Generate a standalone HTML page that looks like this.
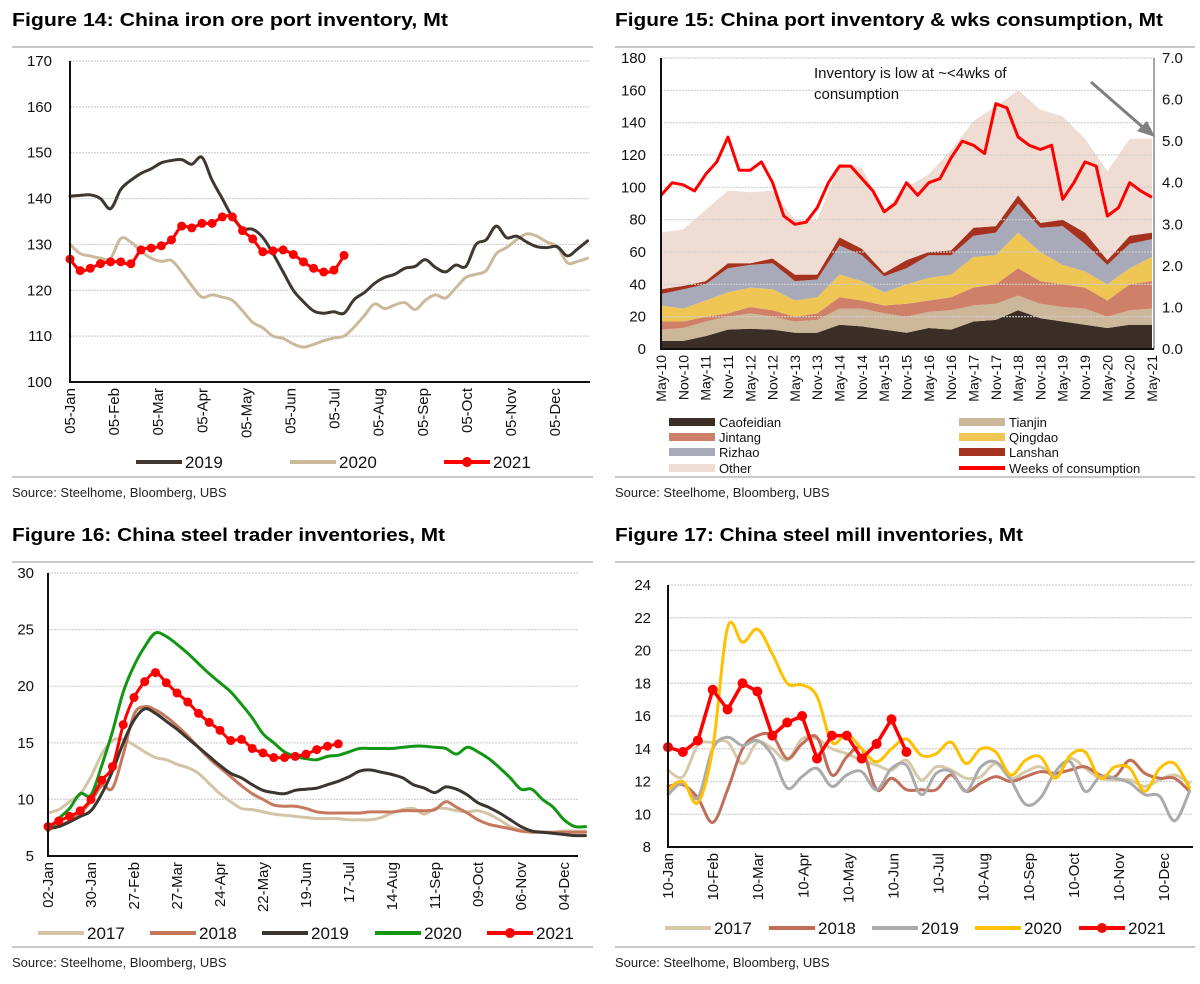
<!DOCTYPE html>
<html><head><meta charset="utf-8"><style>
html,body{margin:0;padding:0;background:#fff;}
svg{display:block;font-family:"Liberation Sans",Arial,sans-serif;}
.t{font-weight:bold;font-size:18px;fill:#000;}
.src{font-size:13px;fill:#222;}
.tk{font-size:14px;fill:#111;}
.lg{font-size:15px;fill:#111;}
</style></head><body>
<svg id="s" width="1200" height="984" viewBox="0 0 1200 984" xmlns="http://www.w3.org/2000/svg">
<text class="t" x="12" y="26" textLength="436" lengthAdjust="spacingAndGlyphs">Figure 14: China iron ore port inventory, Mt</text>
<text class="t" x="615" y="26" textLength="548" lengthAdjust="spacingAndGlyphs">Figure 15: China port inventory &amp; wks consumption, Mt</text>
<text class="t" x="12" y="541" textLength="433" lengthAdjust="spacingAndGlyphs">Figure 16: China steel trader inventories, Mt</text>
<text class="t" x="615" y="541" textLength="408" lengthAdjust="spacingAndGlyphs">Figure 17: China steel mill inventories, Mt</text>
<line x1="12" y1="47" x2="593" y2="47" stroke="#c8c8c8" stroke-width="2"/>
<line x1="615" y1="47" x2="1195" y2="47" stroke="#c8c8c8" stroke-width="2"/>
<line x1="12" y1="477" x2="593" y2="477" stroke="#c8c8c8" stroke-width="2"/>
<line x1="615" y1="477" x2="1195" y2="477" stroke="#c8c8c8" stroke-width="2"/>
<line x1="12" y1="562" x2="593" y2="562" stroke="#c8c8c8" stroke-width="2"/>
<line x1="615" y1="562" x2="1195" y2="562" stroke="#c8c8c8" stroke-width="2"/>
<line x1="12" y1="947" x2="593" y2="947" stroke="#c8c8c8" stroke-width="2"/>
<line x1="615" y1="947" x2="1195" y2="947" stroke="#c8c8c8" stroke-width="2"/>
<text class="src" x="12" y="497">Source:  Steelhome, Bloomberg, UBS</text>
<text class="src" x="615" y="497">Source:  Steelhome, Bloomberg, UBS</text>
<text class="src" x="12" y="967">Source:  Steelhome, Bloomberg, UBS</text>
<text class="src" x="615" y="967">Source:  Steelhome, Bloomberg, UBS</text>
<text x="814" y="78" font-size="15" fill="#111">Inventory is low at ~&lt;4wks of</text>
<text x="814" y="99" font-size="15" fill="#111">consumption</text>
</svg>
<script>
// ---- Figure 14 data ----
const f14Ticks=["05-Jan","05-Feb","05-Mar","05-Apr","05-May","05-Jun","05-Jul","05-Aug","05-Sep","05-Oct","05-Nov","05-Dec"];
const f14Y=[100,110,120,130,140,150,160,170];
const f14_2019=[140.5,140.7,140.8,140,137.8,142,144,145.5,146.5,147.8,148.3,148.5,147.5,149,144,140,136,133.5,133.3,131.5,128,124,120,117.5,115.5,115,115.3,115,118,119.5,121.5,122.8,123.5,124.8,125.2,126.7,125,124,125.5,125.2,130,131,134,131.5,131.8,130.5,129.5,129.3,129.5,127.5,129,130.8];
const f14_2020=[130,128,127.5,127,127,131.3,130.5,128.5,127,126.3,126.5,124,121,118.5,119,118.5,117.8,115.5,113,111.8,110,109.5,108.3,107.6,108.2,109,109.6,110,112,114.5,117,116,116.8,117.3,115.8,117.8,119,118.3,120.5,122.8,123.5,124.3,128,129.3,131,132.3,131.8,130.5,129.5,126,126.3,127];
const f14_2021=[126.8,124.3,124.8,125.8,126.2,126.2,125.8,128.8,129.2,129.7,131,134,133.6,134.6,134.6,136,136,133,131.2,128.4,128.6,128.8,127.8,126.2,124.8,124,124.4,127.6];
// ---- Figure 15 data ----
const f15Ticks=["May-10","Nov-10","May-11","Nov-11","May-12","Nov-12","May-13","Nov-13","May-14","Nov-14","May-15","Nov-15","May-16","Nov-16","May-17","Nov-17","May-18","Nov-18","May-19","Nov-19","May-20","Nov-20","May-21"];
const f15YL=[0,20,40,60,80,100,120,140,160,180];
const f15YR=["0.0","1.0","2.0","3.0","4.0","5.0","6.0","7.0"];
const caofeidian=[5,5,8,12,12.5,12,10,10,15,14,12,10,13,12,17,18,24,19,17,15,13,15,15];
const tianjin=[7,8,9,8,9.5,8,7,8,10,11,10,10,10,12,10,10,9,9,9,10,7,9,10];
const jintang=[5,4,3,2,4,4,3,4,7,5,5,8,7,8,11,12,17,14,14,13,10,16,17];
const qingdao=[10,8,10,13,12,13,10,10,14,12,8,12,14,14,19,18,22,18,12,10,10,10,15];
const rizhao=[7,12,10,15,14,16,12,11,18,16,10,10,14,12,13,14,18,15,24,17,12,15,11];
const lanshan=[3,2,2,3,1,3,4,3,5,4,2,5,2,3,5,4,5,3,4,7,3,5,4];
const other=[35,35,44,45,44,42,34,34,46,50,39,45,48,62,66,74,65,70,64,58,55,60,58];
const weeksQ=[3.7,4.0,3.95,3.8,4.2,4.5,5.1,4.3,4.3,4.5,4.0,3.2,3.0,3.05,3.4,4.0,4.4,4.4,4.1,3.8,3.3,3.5,4.0,3.7,4.0,4.1,4.6,5.0,4.9,4.7,5.9,5.8,5.1,4.9,4.8,4.9,3.6,4.0,4.5,4.4,3.2,3.4,4.0,3.8,3.65];
// ---- Figure 16 data ----
const f16Ticks=["02-Jan","30-Jan","27-Feb","27-Mar","24-Apr","22-May","19-Jun","17-Jul","14-Aug","11-Sep","09-Oct","06-Nov","04-Dec"];
const f16Y=[5,10,15,20,25,30];
const f16_2017=[8.8,9.1,9.8,10.5,12,14,15.2,15.3,14.8,14.2,13.7,13.5,13.1,12.8,12.3,11.4,10.5,9.8,9.2,9.1,8.9,8.7,8.6,8.5,8.4,8.3,8.3,8.3,8.2,8.2,8.2,8.4,8.8,9.1,9.2,8.7,9.2,9.2,9.0,8.9,9.0,8.7,8.2,7.6,7.3,7.2,7.1,7.1,7.2,7.2,7.2];
const f16_2018=[7.5,7.7,8.1,8.8,9.8,11.2,11.0,14,17.5,18.2,17.9,17.3,16.5,15.6,14.6,13.6,12.8,12.0,11.2,10.5,10.0,9.5,9.4,9.4,9.2,8.9,8.8,8.8,8.8,8.8,8.9,8.9,8.9,9.0,9.0,9.0,9.1,9.8,9.3,8.8,8.2,7.8,7.6,7.4,7.2,7.1,7.1,7.1,7.1,7.1,7.1];
const f16_2019=[7.4,7.6,8.0,8.5,9.0,10.5,12.5,15,17,18.0,17.6,16.9,16.2,15.4,14.6,13.8,13.0,12.3,11.9,11.3,10.8,10.6,10.5,10.8,10.9,11.0,11.3,11.6,12.0,12.5,12.6,12.4,12.2,11.9,11.3,11.0,10.6,11.1,10.9,10.4,9.7,9.3,8.8,8.2,7.6,7.2,7.1,7.0,6.9,6.8,6.8];
const f16_2020=[7.2,8.3,9.2,10.5,10.4,13,16,19.5,21.8,23.5,24.7,24.4,23.7,22.9,22.0,21.1,20.3,19.5,18.4,17.2,15.8,15.0,14.2,13.8,13.6,13.5,13.8,13.9,14.2,14.5,14.5,14.5,14.5,14.6,14.7,14.7,14.6,14.5,14.0,14.6,14.2,13.6,12.8,11.9,10.9,10.9,10.0,9.3,8.2,7.6,7.6];
const f16_2021=[7.6,8.1,8.5,9.0,10.0,11.7,12.9,16.6,19.0,20.4,21.2,20.3,19.4,18.6,17.6,16.8,16.1,15.2,15.3,14.5,14.1,13.7,13.7,13.8,14.0,14.4,14.7,14.9];
// ---- Figure 17 data ----
const f17Ticks=["10-Jan","10-Feb","10-Mar","10-Apr","10-May","10-Jun","10-Jul","10-Aug","10-Sep","10-Oct","10-Nov","10-Dec"];
const f17Y=[8,10,12,14,16,18,20,22,24];
const f17_2017=[12.7,12.3,14.2,14.4,14.4,13.1,14.4,14.0,13.3,14.6,14.6,14.0,13.7,13.3,13.0,12.7,13.3,12.1,12.9,12.7,12.2,12.3,13.1,12.2,12.6,12.9,12.3,13.4,12.8,12.2,12.1,12.1,11.7,12.1,12.4,11.9];
const f17_2018=[11.7,11.8,11.0,9.5,11.5,14.0,14.8,14.8,13.4,14.3,14.7,12.4,13.5,14.0,11.5,12.2,11.5,11.5,11.5,12.4,11.4,11.9,12.3,12.0,12.3,12.6,12.5,12.7,12.9,12.4,12.3,13.3,12.5,12.2,12.2,11.4];
const f17_2019=[11.2,11.9,11.0,14.0,14.7,14.2,14.5,13.6,11.6,12.3,12.8,11.7,12.4,12.6,11.5,12.8,13.0,11.2,12.5,12.6,11.4,12.9,13.2,12.1,10.6,11.0,12.6,13.2,11.4,12.3,12.2,11.9,11.2,11.1,9.6,11.4];
const f17_2020=[11.5,12.0,10.7,14.0,21.4,20.5,21.3,19.8,18.0,17.9,17.2,14.4,14.9,14.0,13.2,14.0,14.6,13.6,13.7,14.4,13.1,14.0,13.8,12.4,13.3,13.5,12.2,13.6,13.8,12.2,12.9,12.8,11.4,12.8,13.1,11.6];
const f17_2021=[14.1,13.8,14.5,17.6,16.4,18.0,17.5,14.8,15.6,16.0,13.4,14.8,14.8,13.4,14.3,15.8,13.8];

const NS="http://www.w3.org/2000/svg";
const svg=document.getElementById('s');
function mk(tag,attrs,parent){const e=document.createElementNS(NS,tag);for(const k in attrs)e.setAttribute(k,attrs[k]);(parent||svg).appendChild(e);return e;}
function smooth(pts){if(pts.length<2)return '';let d='M'+pts[0][0].toFixed(1)+','+pts[0][1].toFixed(1);for(let i=0;i<pts.length-1;i++){const p0=pts[i-1]||pts[i],p1=pts[i],p2=pts[i+1],p3=pts[i+2]||p2;const t=0.17;d+=' C'+(p1[0]+(p2[0]-p0[0])*t).toFixed(1)+','+(p1[1]+(p2[1]-p0[1])*t).toFixed(1)+' '+(p2[0]-(p3[0]-p1[0])*t).toFixed(1)+','+(p2[1]-(p3[1]-p1[1])*t).toFixed(1)+' '+p2[0].toFixed(1)+','+p2[1].toFixed(1);}return d;}
function grid(x0,x1,ticks,sy,lx,anchor,name){ticks.forEach((v,i)=>{const y=sy(+v);
 const g=mk('line',{x1:x0,x2:x1,y1:y,y2:y,stroke:'#cfcfcf','stroke-width':1.2,'stroke-dasharray':'2,1'});
 
 
 const t=mk('text',{x:lx,y:y+5,'text-anchor':anchor,'font-size':15,fill:'#111'});t.textContent=v;
 
 });}
function xlabels(labels,fx,yTop,name,fs){labels.forEach((l,i)=>{const x=fx(i);const t=mk('text',{x:0,y:0,transform:`translate(${x+5},${yTop}) rotate(-90)`,'text-anchor':'end','font-size':fs||14,fill:'#111'});t.textContent=l;
 
 });}
function axes(x0,y0,x1,y1,name){const a=mk('path',{d:`M${x0},${y1} L${x0},${y0} L${x1},${y0}`,fill:'none',stroke:'#111','stroke-width':2});
 
 }
function series(vals,fx,sy,color,w,name){const p=mk('path',{d:smooth(vals.map((v,i)=>[fx(i),sy(v)])),fill:'none',stroke:color,'stroke-width':w,'stroke-linejoin':'round','stroke-linecap':'round'});
 
 return p;}
function markers(vals,fx,sy,r,name){vals.forEach((v,i)=>{const c=mk('circle',{cx:fx(i),cy:sy(v),r:r,fill:'#f00'});
 
 });}
function legend(x,y,label,color,dot,name){const l=mk('line',{x1:x,x2:x+46,y1:y,y2:y,stroke:color,'stroke-width':4});
 
 
 if(dot){const c=mk('circle',{cx:x+23,cy:y,r:5,fill:'#f00'});}
 const t=mk('text',{x:x+49,y:y+6,'font-size':17,fill:'#111'});t.textContent=label;
 
 }

// Figure 14
(function(){const X0=70,X1=590,YT=61,YB=382;const sy=v=>YB-(v-100)*(YB-YT)/70;const wx=i=>X0+i*10.15;
 grid(X0,X1,f14Y,sy,52,'end','fig14');
 series(f14_2020,wx,sy,'#cbb99b',3,'fig14-line-2020');
 series(f14_2019,wx,sy,'#3f3831',3,'fig14-line-2019');
 series(f14_2021,wx,sy,'#f00',3,'fig14-line-2021');markers(f14_2021,wx,sy,4.5,'fig14-2021');
 axes(X0,YB,X1,YT,'fig14');
 xlabels(f14Ticks,i=>X0+i*44.1,388,'fig14',15);
 legend(136,462,'2019','#3f3831',false,'fig14-legend-2019');legend(290,462,'2020','#cbb99b',false,'fig14-legend-2020');legend(444,462,'2021','#f00',true,'fig14-legend-2021');})();

// Figure 15
(function(){const X0=661,X1=1154,YT=58,YB=349;const sy=v=>YB-v*(YB-YT)/180;const sr=v=>YB-v*(YB-YT)/7;
 const hx=i=>X0+i*(X1-X0-2)/22;const qx=i=>X0+i*(X1-X0-2)/44;
 const layers=[['caofeidian',caofeidian,'#3b2e26'],['tianjin',tianjin,'#cdb79a'],['jintang',jintang,'#cf8068'],['qingdao',qingdao,'#efc653'],['rizhao',rizhao,'#a9aab9'],['lanshan',lanshan,'#a5311f'],['other',other,'#efdcd2']];
 let base=caofeidian.map(()=>0);
 layers.forEach(([n,vals,col])=>{const top=base.map((b,i)=>b+vals[i]);
  let d='M'+hx(0)+','+sy(base[0]);top.forEach((v,i)=>d+=' L'+hx(i).toFixed(1)+','+sy(v).toFixed(1));for(let i=base.length-1;i>=0;i--)d+=' L'+hx(i).toFixed(1)+','+sy(base[i]).toFixed(1);d+='Z';
  const p=mk('path',{d:d,fill:col,stroke:'none'});
  
  
  base=top;});
 grid(X0,X1,f15YL,sy,646,'end','fig15');
 f15YR.forEach(v=>{const t=mk('text',{x:1162,y:sr(+v)+5,'font-size':15,fill:'#111'});t.textContent=v;
  
  });
 const rl=mk('line',{x1:X1,x2:X1,y1:YT,y2:YB,stroke:'#888','stroke-width':1.5});
 const wl=mk('polyline',{points:weeksQ.map((v,i)=>qx(i).toFixed(1)+','+sr(v).toFixed(1)).join(' '),fill:'none',stroke:'#f00','stroke-width':3,'stroke-linejoin':'round'});
 
 
 axes(X0,YB,X1,YT,'fig15');
 xlabels(f15Ticks,hx,355,'fig15',14);
 const ar=mk('line',{x1:1091,y1:82,x2:1146,y2:130,stroke:'#7f7f7f','stroke-width':3});
 const ah=mk('polygon',{points:'1155,137 1137,131 1147,121',fill:'#7f7f7f'});
 const items=[['Caofeidian','#3b2e26',669,422],['Jintang','#cf8068',669,437],['Rizhao','#a9aab9',669,452],['Other','#efdcd2',669,468],['Tianjin','#cdb79a',959,422],['Qingdao','#efc653',959,437],['Lanshan','#a5311f',959,452]];
 items.forEach(([n,c,x,y])=>{const r=mk('rect',{x:x,y:y-4,width:46,height:8,fill:c});
  const t=mk('text',{x:x+50,y:y+5,'font-size':13,fill:'#111'});t.textContent=n;});
 const wl2=mk('line',{x1:959,x2:1005,y1:468,y2:468,stroke:'#f00','stroke-width':4});
 const wt=mk('text',{x:1009,y:473,'font-size':13,fill:'#111'});wt.textContent='Weeks of consumption';})();

// Figure 16
(function(){const X0=48,X1=578,YT=573,YB=856;const sy=v=>YB-(v-5)*(YB-YT)/25;const wx=i=>X0+i*10.75;
 grid(X0,X1,f16Y,sy,34,'end','fig16');
 series(f16_2017,wx,sy,'#d3c3a7',3,'fig16-line-2017');
 series(f16_2018,wx,sy,'#c4795d',3,'fig16-line-2018');
 series(f16_2019,wx,sy,'#3b352f',3,'fig16-line-2019');
 series(f16_2020,wx,sy,'#139613',3,'fig16-line-2020');
 series(f16_2021,wx,sy,'#f00',3,'fig16-line-2021');markers(f16_2021,wx,sy,4.5,'fig16-2021');
 axes(X0,YB,X1,YT,'fig16');
 xlabels(f16Ticks,i=>X0+i*43,862,'fig16',15);
 legend(38,933,'2017','#d3c3a7',false,'fig16-legend-2017');legend(150,933,'2018','#c4795d',false,'fig16-legend-2018');legend(262,933,'2019','#3b352f',false,'fig16-legend-2019');legend(375,933,'2020','#139613',false,'fig16-legend-2020');legend(487,933,'2021','#f00',true,'fig16-legend-2021');})();

// Figure 17
(function(){const X0=668,X1=1193,YT=585,YB=847;const sy=v=>YB-(v-8)*(YB-YT)/16;const dx=i=>X0+i*14.9;
 grid(X0,X1,f17Y,sy,651,'end','fig17');
 series(f17_2017,dx,sy,'#d6c9a8',3,'fig17-line-2017');
 series(f17_2018,dx,sy,'#c0705a',3,'fig17-line-2018');
 series(f17_2019,dx,sy,'#ababab',3,'fig17-line-2019');
 series(f17_2020,dx,sy,'#ffc000',3,'fig17-line-2020');
 const r=mk('polyline',{points:f17_2021.map((v,i)=>dx(i).toFixed(1)+','+sy(v).toFixed(1)).join(' '),fill:'none',stroke:'#f00','stroke-width':3.5,'stroke-linejoin':'round'});
 
 
 markers(f17_2021,dx,sy,5,'fig17-2021');
 axes(X0,YB,X1,YT,'fig17');
 xlabels(f17Ticks,i=>X0+i*45.1,853,'fig17',15);
 legend(665,928,'2017','#d6c9a8',false,'fig17-legend-2017');legend(769,928,'2018','#c0705a',false,'fig17-legend-2018');legend(872,928,'2019','#ababab',false,'fig17-legend-2019');legend(975,928,'2020','#ffc000',false,'fig17-legend-2020');legend(1079,928,'2021','#f00',true,'fig17-legend-2021');})();
</script>
</body></html>
